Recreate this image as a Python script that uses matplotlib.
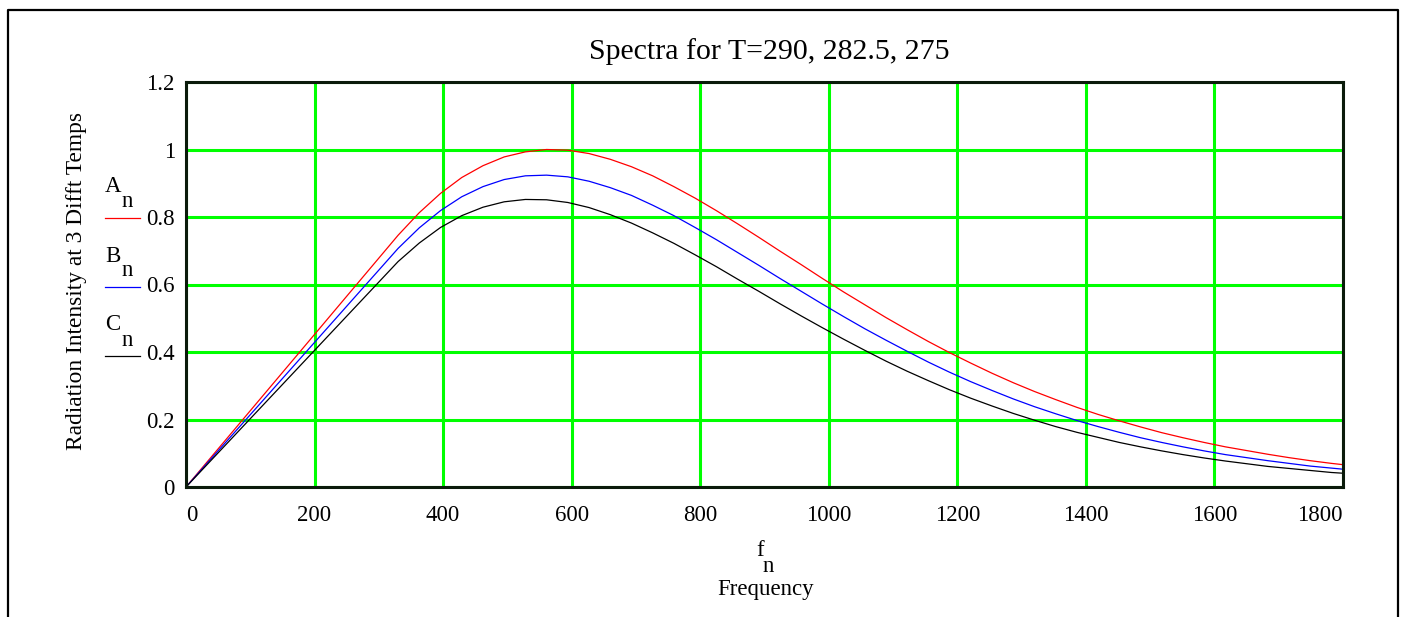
import matplotlib
matplotlib.use("Agg")
import matplotlib.pyplot as plt
from matplotlib.lines import Line2D

# f_n (frequency) and the three normalised spectra
freq = [0, 330, 363, 396, 429, 462, 495, 528, 561, 594, 627, 660, 693, 726, 759,
        792, 825, 858, 891, 924, 957, 990, 1023, 1056, 1089, 1122, 1155, 1188,
        1221, 1254, 1287, 1320, 1353, 1386, 1419, 1452, 1485, 1518, 1551, 1584,
        1617, 1650, 1683, 1716, 1749, 1782, 1815]
a_n = [0, 0.746, 0.813, 0.870, 0.917, 0.952, 0.978, 0.993, 1.000, 0.998, 0.988,
       0.971, 0.949, 0.922, 0.890, 0.856, 0.819, 0.780, 0.740, 0.699, 0.659, 0.618,
       0.578, 0.540, 0.502, 0.466, 0.431, 0.398, 0.367, 0.337, 0.309, 0.283, 0.259,
       0.236, 0.215, 0.196, 0.178, 0.161, 0.146, 0.132, 0.119, 0.108, 0.097, 0.087,
       0.078, 0.070, 0.063]
b_n = [0, 0.707, 0.768, 0.819, 0.860, 0.890, 0.911, 0.922, 0.924, 0.919, 0.906,
       0.887, 0.864, 0.835, 0.804, 0.769, 0.733, 0.695, 0.657, 0.618, 0.580, 0.542,
       0.505, 0.469, 0.435, 0.402, 0.370, 0.340, 0.312, 0.286, 0.261, 0.238, 0.217,
       0.197, 0.179, 0.162, 0.146, 0.132, 0.119, 0.107, 0.096, 0.087, 0.078, 0.070,
       0.062, 0.056, 0.050]
c_n = [0, 0.668, 0.723, 0.769, 0.804, 0.829, 0.845, 0.852, 0.851, 0.843, 0.828,
       0.807, 0.782, 0.753, 0.722, 0.688, 0.653, 0.616, 0.580, 0.543, 0.507, 0.472,
       0.438, 0.405, 0.373, 0.343, 0.315, 0.288, 0.263, 0.240, 0.218, 0.198, 0.179,
       0.162, 0.147, 0.132, 0.119, 0.107, 0.096, 0.086, 0.077, 0.069, 0.061, 0.055,
       0.049, 0.043, 0.039]
x_ticks = [0, 200, 400, 600, 800, 1000, 1200, 1400, 1600, 1800]
y_ticks = [0, 0.2, 0.4, 0.6, 0.8, 1.0, 1.2]
y_tick_labels = ["0", "0.2", "0.4", "0.6", "0.8", "1", "1.2"]

W, H = 1407, 617
plt.rcParams["font.family"] = ["Liberation Serif", "DejaVu Serif"]


def fx(px):
    return px / W


def fy(py):
    return 1 - py / H


fig = plt.figure(figsize=(W / 100, H / 100), dpi=100)
ax = fig.add_axes([fx(186), fy(487), fx(1343) - fx(186), fy(82) - fy(487)])

ax.plot(freq, a_n, color="#ff0000", lw=0.9, zorder=3)
ax.plot(freq, b_n, color="#0000ff", lw=0.9, zorder=3)
ax.plot(freq, c_n, color="black", lw=0.9, zorder=3)

ax.set_xlim(0, 1800)
ax.set_ylim(0, 1.2)
ax.set_xticks(x_ticks)
ax.set_yticks(y_ticks)
ax.set_yticklabels(y_tick_labels)
ax.grid(True, color="#00ff00", lw=2.2)
ax.set_axisbelow(True)
ax.tick_params(length=0, labelsize=16.5)
ax.tick_params(axis="x", pad=13)
ax.tick_params(axis="y", pad=8)
xl = ax.get_xticklabels()
xl[0].set_ha("left")
xl[-1].set_ha("right")
for s in ax.spines.values():
    s.set_linewidth(2.2)
    s.set_color("#0a1a0a")
    s.set_zorder(4)

# titles / labels in Mathcad layout
fig.text(fx(769), fy(52), "Spectra for T=290, 282.5, 275", fontsize=21.5,
         ha="center", va="center")
fig.text(fx(77), fy(281), "Radiation Intensity at 3 Difft Temps", fontsize=16.8,
         rotation=90, ha="center", va="center")
fig.text(fx(760), fy(551), "f", fontsize=16.5, ha="center", va="center")
fig.text(fx(768), fy(566), "n", fontsize=16.5, ha="center", va="center")
fig.text(fx(766), fy(589), "Frequency", fontsize=16.5, ha="center", va="center")

# legend traces on the left
for lab, col, py in (("A", "#ff0000", 218), ("B", "#0000ff", 287), ("C", "black", 356)):
    fig.text(fx(105), fy(py - 31), lab, fontsize=16.5, ha="left", va="center")
    fig.text(fx(122), fy(py - 16), "n", fontsize=16.5, ha="left", va="center")
    fig.add_artist(Line2D([fx(105), fx(140)], [fy(py), fy(py)], color=col, lw=0.9))

# outer frame (bottom edge lies outside the picture)
fig.add_artist(Line2D([fx(8), fx(8), fx(1398), fx(1398)],
                      [fy(H + 5), fy(10), fy(10), fy(H + 5)], color="black", lw=1.6))

fig.savefig("out.png", dpi=100)
